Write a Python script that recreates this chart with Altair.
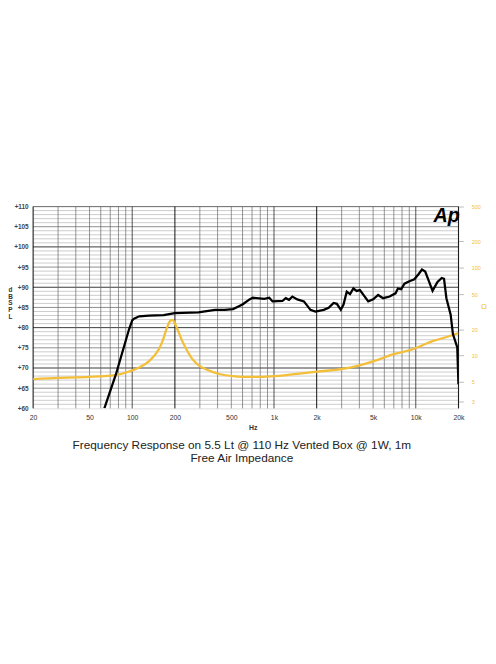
import altair as alt
import pandas as pd

# ---- SPL curve (Hz, dB) ----
spl_freq = [63.6, 76.7, 95, 100, 103, 112, 131, 167, 199, 293, 383, 449, 514, 557, 603, 672, 708,
            855, 926, 977, 1147, 1210, 1277, 1347, 1460, 1626, 1807, 1958, 2243, 2430, 2632, 2776,
            2960, 3093, 3260, 3439, 3630, 3828, 4036, 4620, 5006, 5426, 5880, 6538, 7198, 7482,
            7890, 8318, 9014, 9770, 10484, 11054, 11656, 12312, 13132, 14230, 15248, 15820, 16444,
            17618, 18280, 19616, 20000]
spl_db = [60, 68.4, 79.6, 81.8, 82.2, 82.8, 83.0, 83.1, 83.6, 83.8, 84.4, 84.4, 84.6, 85.2, 85.8,
          87.0, 87.4, 87.1, 87.4, 86.5, 86.6, 87.3, 86.9, 87.7, 87.0, 86.5, 84.4, 84.0, 84.4, 84.9,
          86.1, 85.9, 84.4, 85.7, 88.9, 88.3, 89.7, 89.1, 89.3, 86.5, 87.0, 88.1, 87.3, 87.7, 88.5,
          89.7, 89.5, 90.9, 91.5, 92.0, 93.3, 94.4, 93.9, 91.7, 89.1, 91.3, 92.3, 92.1, 87.3, 83.2,
          78.4, 75.1, 66]

# ---- Free air impedance (Hz, Ohm) ----
imp_freq = [20, 26, 58.7, 76.7, 95, 112, 131, 142, 154, 164, 172, 179, 187, 193, 199, 209, 223,
            241, 266, 293, 344, 404, 528, 689, 951, 1460, 2013, 3439, 5135, 6904, 9520, 13132,
            17140, 20000]
imp_ohm = [5.4, 5.5, 5.8, 6.0, 6.58, 7.3, 8.6, 9.8, 11.8, 14.8, 18.7, 22.4, 25.2, 25.5, 23.6,
           19.7, 15.2, 11.8, 9.1, 7.8, 6.8, 6.2, 5.8, 5.7, 5.8, 6.2, 6.55, 7.3, 8.7, 10.3, 11.8,
           14.6, 16.6, 18.1]

# ---- axis ticks ----
x_ticks = [20, 50, 100, 200, 500, 1000, 2000, 5000, 10000, 20000]
db_ticks = [60, 65, 70, 75, 80, 85, 90, 95, 100, 105, 110]
ohm_ticks = [3, 5, 10, 20, 50, 100, 200, 500]

# ---- grid lines ----
grid_freq_minor = [30, 40, 50, 60, 70, 80, 90, 300, 400, 500, 600, 700, 800, 900,
                   3000, 4000, 5000, 6000, 7000, 8000, 9000]
grid_freq_mid = [100, 1000, 10000]
grid_freq_major = [20, 200, 2000, 20000]
grid_db_fine = [v for v in range(61, 110) if v % 5 != 0]
grid_db_mid = [65, 75, 85, 95, 105]
grid_db_major = [70, 80, 90, 100]

YELLOW = "#F3BE38"
FONT = "Liberation Sans"

xscale = alt.Scale(type="log", domain=[20, 20000], nice=False)
yscale = alt.Scale(domain=[60, 110], nice=False, zero=False)
zscale = alt.Scale(type="log", domain=[2.5, 500], nice=False)

xaxis = alt.Axis(
    values=x_ticks, labelExpr="datum.value >= 1000 ? (datum.value/1000) + 'k' : datum.value",
    grid=False, domain=False, ticks=False, labelFontSize=7, labelColor="#333333",
    labelFont=FONT, labelPadding=5, labelFlush=False,
    title="Hz", titleFontSize=7, titleFont=FONT, titleFontWeight="bold", titleColor="#333333",
    titleX=223, titleY=15, titleAnchor="start", titleAlign="center")

vgrid = pd.DataFrame({
    "f": grid_freq_minor + grid_freq_mid + grid_freq_major,
    "k": ["minor"] * len(grid_freq_minor) + ["mid"] * len(grid_freq_mid)
         + ["major"] * len(grid_freq_major),
})
hgrid = pd.DataFrame({
    "d": grid_db_fine + grid_db_mid + grid_db_major + [110],
    "k": ["fine"] * len(grid_db_fine) + ["mid"] * len(grid_db_mid)
         + ["major"] * len(grid_db_major) + ["top"],
})

h_rules = alt.Chart(hgrid).mark_rule().encode(
    y=alt.Y("d:Q", scale=yscale, axis=None),
    color=alt.Color("k:N", scale=alt.Scale(domain=["fine", "mid", "major", "top"],
                                           range=["#9a9a9a", "#555555", "#111111", "#777777"]),
                    legend=None),
    strokeWidth=alt.StrokeWidth("k:N", scale=alt.Scale(domain=["fine", "mid", "major", "top"],
                                                       range=[0.5, 1.0, 1.6, 3.0]),
                                legend=None),
)

v_rules = alt.Chart(vgrid).mark_rule().encode(
    x=alt.X("f:Q", scale=xscale, axis=xaxis),
    color=alt.Color("k:N", scale=alt.Scale(domain=["minor", "mid", "major"],
                                           range=["#666666", "#333333", "#111111"]),
                    legend=None),
    strokeWidth=alt.StrokeWidth("k:N", scale=alt.Scale(domain=["minor", "mid", "major"],
                                                       range=[0.7, 1.0, 1.6]),
                                legend=None),
)

spl = alt.Chart(pd.DataFrame({"f": spl_freq, "db": spl_db})).mark_line(
    color="#000000", strokeWidth=2.3, clip=True
).encode(
    x=alt.X("f:Q", scale=xscale, axis=xaxis),
    y=alt.Y("db:Q", scale=yscale, axis=alt.Axis(
        orient="left", values=db_ticks, labelExpr="'+' + datum.value", grid=False, domain=False,
        ticks=False, labelFontSize=6.5, labelColor="#444444", labelFont=FONT, labelFontWeight="bold",
        labelPadding=5,
        title=["d", "B", "", "S", "P", "L"], titleAngle=0, titleFontSize=6.5, titleFont=FONT,
        titleFontWeight="bold", titleColor="#333333", titleLineHeight=7, titleX=-23.5, titleY=81,
        titleAlign="center", titleBaseline="top")),
    order=alt.Order("f:Q"),
)

imp = alt.Chart(pd.DataFrame({"f": imp_freq, "ohm": imp_ohm})).mark_line(
    color=YELLOW, strokeWidth=2.3, interpolate="monotone", clip=True
).encode(
    x=alt.X("f:Q", scale=xscale, axis=xaxis),
    y=alt.Y("ohm:Q", scale=zscale, axis=alt.Axis(
        orient="right", values=ohm_ticks, grid=False, domain=False, ticks=True, tickSize=5,
        tickColor="#bbbbbb", labelFontSize=5.5, labelColor=YELLOW, labelFont=FONT,
        labelPadding=8, title="")),
    order=alt.Order("f:Q"),
)

ohm_title = alt.Chart(pd.DataFrame({"t": ["Ω"]})).mark_text(
    fontSize=8, font=FONT, color=YELLOW, align="center", baseline="middle"
).encode(text="t:N", x=alt.value(458), y=alt.value(102))

logo = alt.Chart(pd.DataFrame({"t": ["Ap"]})).mark_text(
    fontSize=20, fontStyle="italic", fontWeight="bold", font=FONT, color="#000000",
    align="center", baseline="middle"
).encode(text="t:N", x=alt.value(420), y=alt.value(10))

chart = alt.layer(h_rules, v_rules, imp, spl, logo, ohm_title).resolve_scale(
    y="independent", color="independent", strokeWidth="independent"
).properties(
    width=432,
    height=205,
    padding={"left": 25.5, "top": 196.7, "right": 30, "bottom": 230},
    autosize=alt.AutoSizeParams(type="none"),
    title=alt.TitleParams(
        ["Frequency Response on 5.5 Lt @ 110 Hz Vented Box @ 1W, 1m", "Free Air Impedance"],
        orient="bottom", anchor="middle", fontSize=12, fontWeight="normal", font=FONT,
        color="#222222", lineHeight=13, offset=10, dx=-4),
).configure_view(stroke="#444444", strokeWidth=1).configure(background="white")

chart.save("out.html", embed_options={"renderer": "svg", "actions": False})
